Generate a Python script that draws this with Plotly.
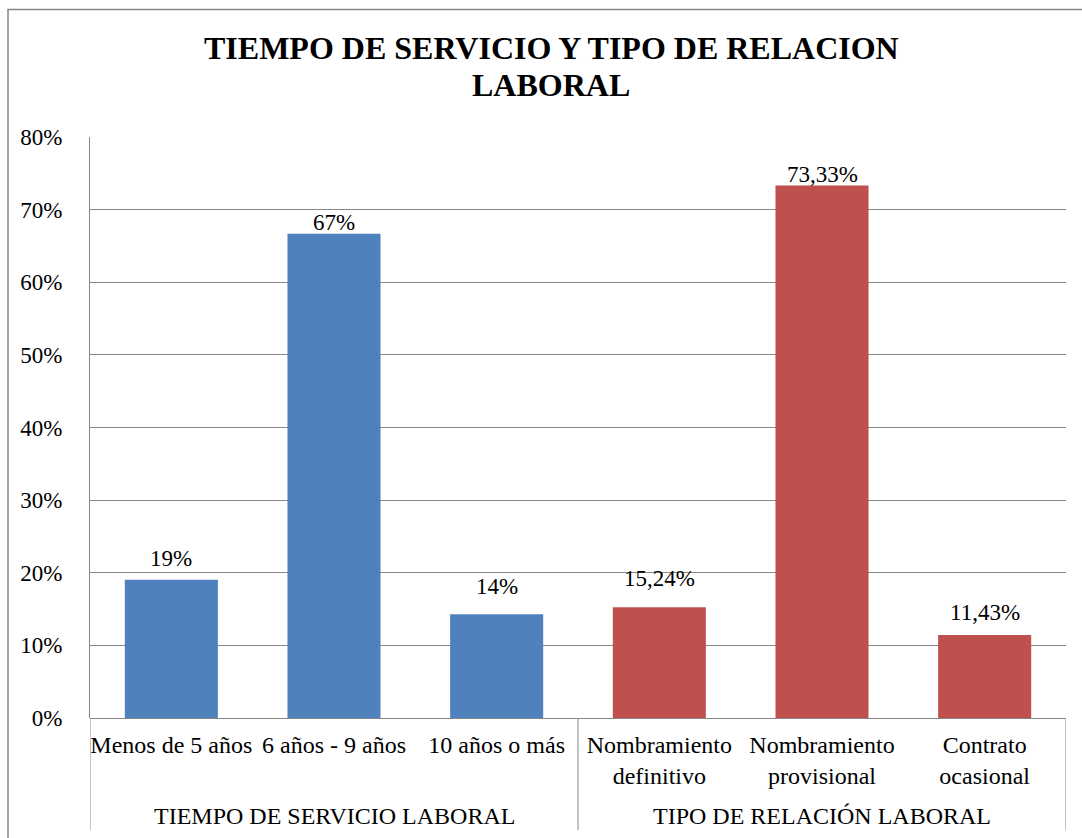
import plotly.graph_objects as go

# ---- data ----
groups = ["TIEMPO DE SERVICIO LABORAL", "TIPO DE RELACIÓN LABORAL"]
cats_tiempo = ["Menos de 5 años", "6 años - 9 años", "10 años o más"]
cats_tipo = ["Nombramiento<br>definitivo", "Nombramiento<br>provisional", "Contrato<br>ocasional"]
vals_tiempo = [0.1905, 0.6667, 0.1429]
vals_tipo = [0.1524, 0.7333, 0.1143]
labels_tiempo = ["19%", "67%", "14%"]
labels_tipo = ["15,24%", "73,33%", "11,43%"]
y_ticks = [0, 0.1, 0.2, 0.3, 0.4, 0.5, 0.6, 0.7, 0.8]
title_lines = ["TIEMPO DE SERVICIO Y TIPO DE RELACION", "LABORAL"]

# ---- style ----
FONT = "Liberation Serif"
GRID = "#878787"
label_shift_px = [21, 11, 28, 29, 11, 22]   # vertical gap of each data label above its bar

fig = go.Figure()
fig.add_trace(go.Bar(x=cats_tiempo, y=vals_tiempo, marker_color="#4F81BD",
                     marker_line_width=0, hoverinfo="x+y"))
fig.add_trace(go.Bar(x=cats_tipo, y=vals_tipo, marker_color="#C0504D",
                     marker_line_width=0, hoverinfo="x+y"))

all_cats = cats_tiempo + cats_tipo
all_vals = vals_tiempo + vals_tipo
all_labels = labels_tiempo + labels_tipo
n = len(all_cats)

fig.update_layout(
    width=1082, height=838,
    margin=dict(l=90, r=16, t=137, b=120),
    paper_bgcolor="white", plot_bgcolor="white",
    barmode="overlay", bargap=0.428,
    showlegend=False,
    font=dict(family=FONT, size=23, color="black"),
    xaxis=dict(type="category", categoryorder="array", categoryarray=all_cats,
               range=[-0.5, n - 0.5], showgrid=False, showline=False,
               ticks="", ticklabelstandoff=10,
               tickfont=dict(family=FONT, size=24, color="black")),
    yaxis=dict(range=[0, 0.8], tickvals=y_ticks, tickformat=".0%",
               showgrid=True, gridcolor=GRID, gridwidth=1,
               zeroline=True, zerolinecolor=GRID, zerolinewidth=1,
               showline=True, linecolor=GRID, linewidth=1,
               ticks="", ticklabelstandoff=22,
               tickfont=dict(family=FONT, size=23, color="black")),
)

shapes = []
# vertical separators of the category axis
for xv in [-0.5, 2.5, n - 0.5]:
    shapes.append(dict(type="line", xref="x", yref="paper", x0=xv, x1=xv,
                       y0=0, y1=-0.193, line=dict(color=GRID, width=1)))
# outer chart border
shapes.append(dict(type="rect", xref="paper", yref="paper",
                   x0=(8 - 90) / 976, x1=(1095 - 90) / 976,
                   y0=(718 - 850) / 581, y1=(718 - 9.5) / 581,
                   line=dict(color=GRID, width=1.5), fillcolor="rgba(0,0,0,0)",
                   layer="below"))
fig.update_layout(shapes=shapes)

# data labels
for c, v, t, s in zip(all_cats, all_vals, all_labels, label_shift_px):
    fig.add_annotation(x=c, y=v, xref="x", yref="y", text=t, showarrow=False,
                       yanchor="middle", yshift=s,
                       font=dict(family=FONT, size=23, color="black"))

# group labels
for gx, g in zip([1, 4], groups):
    fig.add_annotation(x=gx, y=(718 - 816) / 581, xref="x", yref="paper",
                       text=g, showarrow=False, yanchor="middle",
                       font=dict(family=FONT, size=24, color="black"))

# title (two lines)
for ty, line in zip([48, 85], title_lines):
    fig.add_annotation(x=(551 - 90) / 976, y=(718 - ty) / 581, xref="paper", yref="paper",
                       text="<b>" + line + "</b>", showarrow=False,
                       xanchor="center", yanchor="middle",
                       font=dict(family=FONT, size=32, color="black"))

fig.write_html("out.html", config={"displayModeBar": False},
               post_script="document.body.style.margin='0px';document.body.style.overflow='hidden';")
